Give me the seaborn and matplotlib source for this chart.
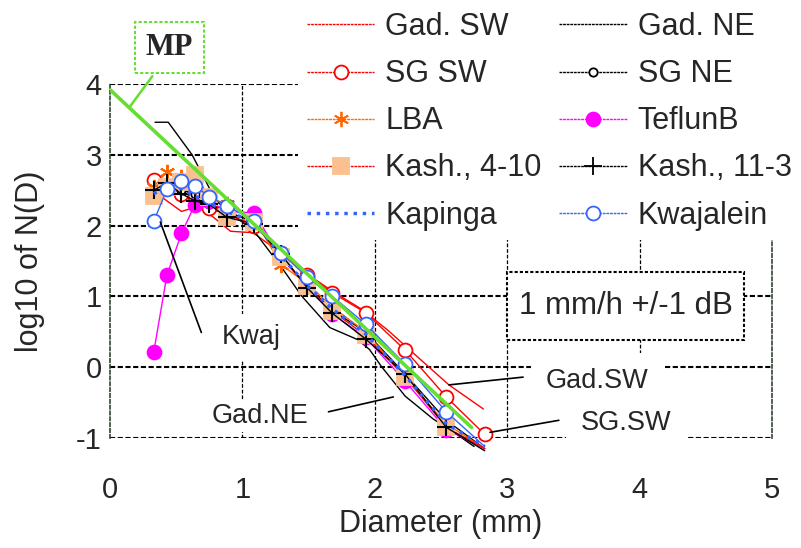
import numpy as np
import pandas as pd
import matplotlib
matplotlib.use("Agg")
import matplotlib.pyplot as plt
import seaborn as sns
from matplotlib.lines import Line2D
from matplotlib.patches import Rectangle

# ---------------- data ----------------
D = [0.33, 0.43, 0.54, 0.64, 0.75, 0.88, 1.09, 1.29, 1.49, 1.68, 1.93, 2.23, 2.54, 2.83]
kwajalein = [2.06, 2.51, 2.63, 2.56, 2.41, 2.28, 2.07, 1.62, 1.27, 1.00, 0.61, 0.04, -0.63, -1.12]
kapinga = [2.45, 2.55, 2.52, 2.42, 2.32, 2.20, 2.05, 1.58, 1.15, 0.82, 0.47, -0.12, -0.80, -1.12]
kash_4_10 = [2.42, 2.55, 2.62, 2.72, 2.40, 2.12, 2.05, 1.56, 1.14, 0.79, 0.45, -0.14, -0.85, -1.15]
kash_11_3 = [2.50, 2.60, 2.45, 2.35, 2.30, 2.12, 2.02, 1.60, 1.12, 0.76, 0.40, -0.10, -0.85, -1.18]
lba = [2.55, 2.76, 2.68, 2.55, 2.40, 2.30, 2.10, 1.45, 1.18, 0.85, 0.50, -0.15, -0.80, -1.15]
sg_ne = [2.40, 2.50, 2.50, 2.45, 2.30, 2.20, 2.05, 1.55, 1.15, 0.80, 0.50, -0.10, -0.75, -1.15]
sg_sw = [2.65, 2.55, 2.45, 2.40, 2.25, 2.15, 2.00, 1.62, 1.30, 1.05, 0.77, 0.24, -0.42, -0.95]
teflunb = [0.21, 1.30, 1.89, 2.29, 2.35, 2.20, 2.18, 1.55, 1.15, 0.75, 0.42, -0.20, -0.88, -1.15]

gad_sw_d = [0.40, 0.54, 0.66, 0.78, 0.91, 1.08, 1.30, 1.50, 1.70, 1.90, 2.10, 2.35, 2.56, 2.82]
gad_sw = [2.39, 2.20, 2.27, 2.12, 1.92, 1.90, 1.60, 1.30, 1.05, 0.82, 0.52, 0.10, -0.25, -0.59]
gad_ne_d = [0.34, 0.44, 0.62, 0.67, 0.80, 1.00, 1.11, 1.30, 1.45, 1.66, 1.87, 1.96, 2.05, 2.23, 2.44, 2.62, 2.75]
gad_ne = [3.46, 3.46, 3.00, 2.82, 2.35, 2.05, 1.87, 1.40, 1.00, 0.56, 0.39, 0.25, 0.01, -0.41, -0.73, -0.95, -1.12]

mp_d = [0.0, 2.73]
mp_logn = [3.92, -0.85]

x_ticks = [0, 1, 2, 3, 4, 5]
y_ticks = [-1, 0, 1, 2, 3, 4]

# ---------------- styling ----------------
sns.set_theme(style="white")
plt.rcParams['font.family'] = ['Liberation Sans', 'DejaVu Sans']

RED = '#ff0000'
ORANGE = '#ff6600'
MAG = '#ff00ff'
PEACH = '#fac090'
BLUE = '#3366ff'
GREEN = '#66dd33'

series = [
    # name, x, y, color, marker, ms, mfc, mec, lw, ls
    ("Gad. SW", gad_sw_d, gad_sw, RED, None, 0, None, None, 1.0, '-'),
    ("Gad. NE", gad_ne_d, gad_ne, 'black', None, 0, None, None, 1.0, '-'),
    ("SG SW", D, sg_sw, RED, 'o', 10, 'white', RED, 1.0, '-'),
    ("SG NE", D, sg_ne, 'black', 'o', 6, 'white', 'black', 1.0, '-'),
    ("LBA", D, lba, ORANGE, (6, 2, 0), 11, ORANGE, ORANGE, 1.0, '-'),
    ("TeflunB", D, teflunb, MAG, 'o', 10, MAG, MAG, 1.0, '-'),
    ("Kash., 4-10", D, kash_4_10, RED, 's', 11, PEACH, PEACH, 1.0, '-'),
    ("Kash., 11-3", D, kash_11_3, 'black', '+', 13, 'black', 'black', 1.0, '-'),
    ("Kapinga", D, kapinga, BLUE, None, 0, None, None, 2.5, ':'),
    ("Kwajalein", D, kwajalein, BLUE, 'o', 10, 'white', BLUE, 1.0, '-'),
]

fig = plt.figure(figsize=(8.01, 5.48), dpi=100)
ax = fig.add_axes([110/801, 1-438/548, 662/801, 354/548])

for name, xs, ys, col, mk, ms, mfc, mec, lw, ls in series:
    df = pd.DataFrame({"D": xs, "logN": ys})
    n0 = len(ax.lines)
    sns.lineplot(data=df, x="D", y="logN", ax=ax, color=col, lw=lw, linestyle=ls,
                 marker=mk if mk else None, markersize=ms,
                 markerfacecolor=mfc, markeredgecolor=mec,
                 markeredgewidth=1.3 if mk in ('o', 's') else 1.5,
                 sort=False, estimator=None, legend=False, zorder=3)
    ln = ax.lines[n0]
    ln.set_clip_on(False)
    if mk:
        ln.set_markevery([i for i, v in enumerate(ys) if v >= -1.0])

mp_df = pd.DataFrame({"D": mp_d, "logN": mp_logn})
sns.lineplot(data=mp_df, x="D", y="logN", ax=ax, color=GREEN, lw=2.6,
             legend=False, zorder=5)

ax.set_xlim(0, 5)
ax.set_ylim(-1, 4)
ax.set_xticks(x_ticks)
ax.set_yticks(y_ticks)
ax.set_xticklabels([str(v) for v in x_ticks], fontsize=21)
ax.set_yticklabels([str(v) for v in y_ticks], fontsize=21)
ax.tick_params(axis='x', length=0, pad=27)
ax.tick_params(axis='y', length=0, pad=6)

# grid
for yv in y_ticks:
    ax.axhline(yv, color='black', lw=1.5, ls=(0, (2.5, 1.2)), zorder=1)
for xv in [1, 2, 3, 4]:
    ax.axvline(xv, color='black', lw=0.9, ls=(0, (3, 1.5)), zorder=1)
for side, sp in ax.spines.items():
    sp.set_visible(side in ('left', 'right'))
    sp.set_linestyle((0, (2, 1.5)))
    sp.set_color('#334433')
    sp.set_linewidth(1.2)

ax.set_xlabel("Diameter (mm)", fontsize=22)
ax.set_ylabel("log10 of N(D)", fontsize=22)
ax.xaxis.set_label_coords(0.5, -0.20)
ax.yaxis.set_label_coords(-0.098, 0.5)

# annotations
def label(x, y, s, pad):
    ax.text(x, y, s, fontsize=19.5, ha='center', va='center', zorder=6,
            bbox=dict(boxstyle=f'square,pad={pad}', fc='white', ec='none'))

ax.plot([0.38, 0.69], [2.05, 0.49], color='black', lw=1.2, zorder=4)
label(1.07, 0.42, "Kwaj", 0.4)
ax.plot([1.65, 2.14], [-0.63, -0.42], color='black', lw=1.2, zorder=4)
label(1.13, -0.69, "Gad.NE", 0.12)
ax.plot([2.56, 3.12], [-0.25, -0.14], color='black', lw=1.2, zorder=4)
label(3.68, -0.20, "Gad.SW", 0.55)
ax.plot([2.87, 3.39], [-0.92, -0.75], color='black', lw=1.2, zorder=4)
label(3.90, -0.79, "SG.SW", 0.55)

ax.add_patch(Rectangle((3.0, 0.39), 1.79, 0.96, fc='white', ec='black', lw=1.5,
                       ls=(0, (1.5, 1)), zorder=6))
ax.text(3.895, 0.87, "1 mm/h +/-1 dB", fontsize=22.5, ha='center', va='center', zorder=7)

ax.plot([0.32, 0.15], [4.11, 3.68], color=GREEN, lw=1.8, clip_on=False, zorder=5)
ax.text(0.45, 4.52, "MP", fontsize=22, fontweight='bold', family=['Liberation Serif'],
        ha='center', va='center', clip_on=False, zorder=6,
        bbox=dict(boxstyle='square,pad=0.36', fc='white', ec=GREEN, lw=1.5, ls=(0, (1.5, 1))))

# legend
handles = []
for name, xs, ys, col, mk, ms, mfc, mec, lw, ls in series:
    handles.append(Line2D([], [], color=col, lw=lw if name == 'Kapinga' else 1.0,
                          ls=':' if name == 'Kapinga' else (0, (2, 0.6)),
                          marker=mk, markersize=ms, markerfacecolor=mfc,
                          markeredgecolor=mec, markeredgewidth=1.3, label=name))
order = [0, 2, 4, 6, 8, 1, 3, 5, 7, 9]
handles = [handles[i] for i in order]
leg = fig.legend(handles=handles, loc='upper left', bbox_to_anchor=(298/801, 1 - 3/548),
                 ncol=2, fontsize=22, frameon=True, fancybox=False,
                 facecolor='white', edgecolor='none', framealpha=1,
                 handlelength=2.2, handletextpad=0.36, columnspacing=0.58,
                 labelspacing=0.56, borderpad=0.3, borderaxespad=0)

fig.savefig("out.png", dpi=100)
